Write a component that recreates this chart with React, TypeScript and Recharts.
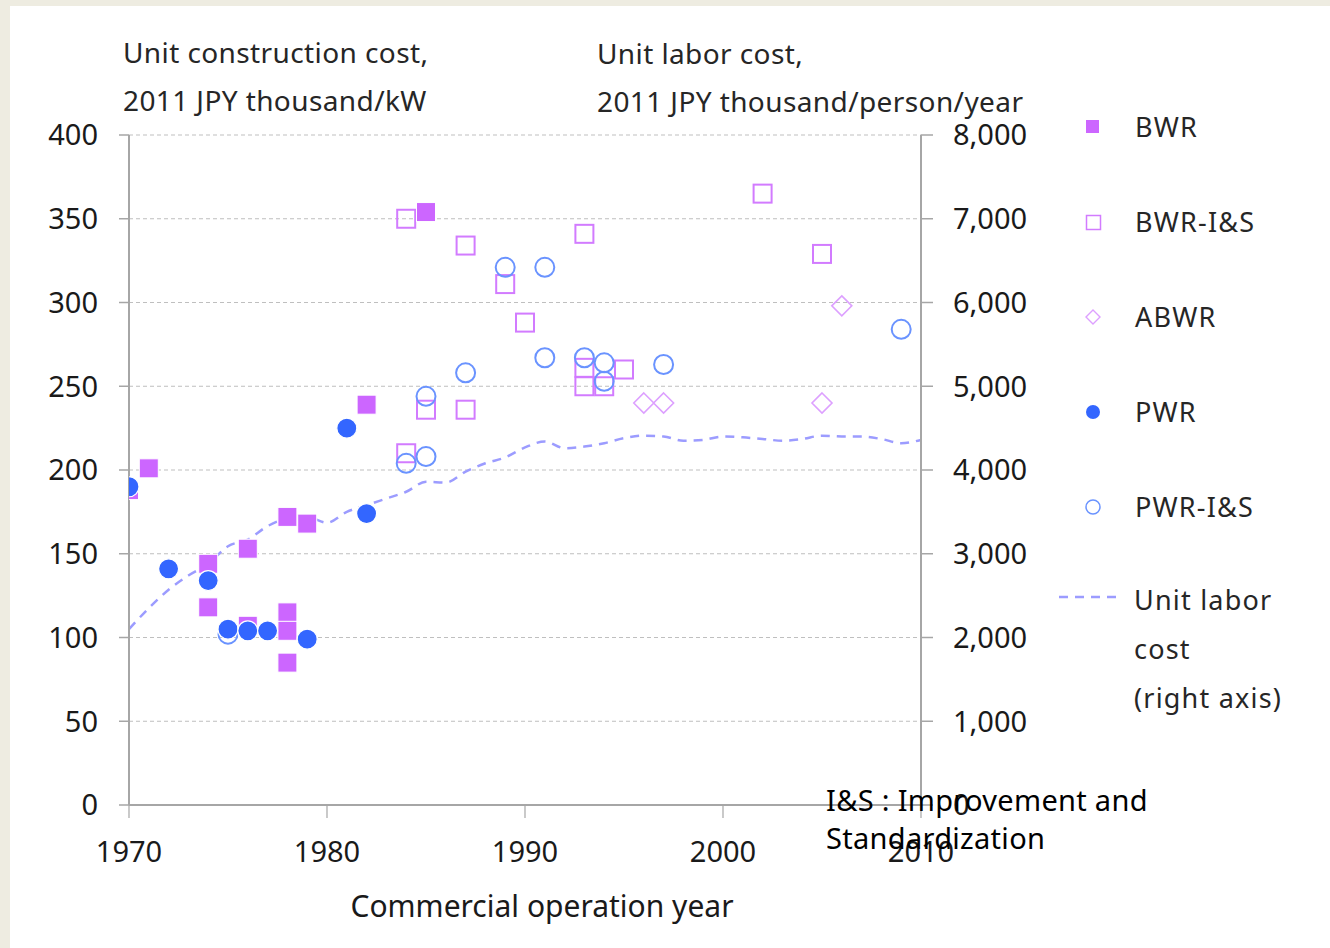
import React from 'react';
import { ComposedChart, Scatter, Line, XAxis, YAxis, CartesianGrid } from 'recharts';

// unit construction cost, 2011 JPY thousand/kW (left axis)
const bwrYears = [1970, 1971, 1974, 1974, 1976, 1976, 1978, 1978, 1978, 1978, 1979, 1982, 1985];
const bwrCost = [188, 201, 144, 118, 153, 107, 172, 115, 104, 85, 168, 239, 354];

const bwrIsYears = [1984, 1987, 1989, 1990, 1993, 1993, 1993, 1994, 1995, 1985, 1987, 1984, 2002, 2005];
const bwrIsCost = [350, 334, 311, 288, 341, 261, 250, 250, 260, 236, 236, 210, 365, 329];

const abwrYears = [1996, 1997, 2005, 2006];
const abwrCost = [240, 240, 240, 298];

const pwrYears = [1970, 1972, 1974, 1975, 1976, 1977, 1979, 1981, 1982];
const pwrCost = [190, 141, 134, 105, 104, 104, 99, 225, 174];

const pwrIsYears = [1975, 1984, 1985, 1985, 1987, 1989, 1991, 1991, 1993, 1994, 1994, 1997, 2009];
const pwrIsCost = [102, 204, 208, 244, 258, 321, 321, 267, 267, 264, 253, 263, 284];

// unit labor cost, 2011 JPY thousand/person/year (right axis)
const laborYears = [
  1970, 1971, 1972, 1973, 1974, 1975, 1976, 1977, 1978, 1979, 1980, 1981, 1982, 1983,
  1984, 1985, 1986, 1987, 1988, 1989, 1990, 1991, 1992, 1993, 1994, 1995, 1996, 1997,
  1998, 1999, 2000, 2001, 2002, 2003, 2004, 2005, 2006, 2007, 2008, 2009, 2010,
];
const laborCost = [
  2100, 2350, 2570, 2740, 2880, 3090, 3170, 3330, 3420, 3440, 3370, 3500, 3580, 3660,
  3740, 3860, 3850, 3980, 4080, 4150, 4270, 4340, 4260, 4280, 4320, 4380, 4410, 4400,
  4350, 4360, 4400, 4390, 4370, 4350, 4370, 4410, 4400, 4400, 4370, 4320, 4360,
];

const xTicks = [1970, 1980, 1990, 2000, 2010];
const leftTicks = [0, 50, 100, 150, 200, 250, 300, 350, 400];
const rightTicks = [0, 1000, 2000, 3000, 4000, 5000, 6000, 7000, 8000];

const toPoints = (years: number[], costs: number[]) =>
  years.map((year, i) => ({ year, cost: costs[i] }));

const bwrData = toPoints(bwrYears, bwrCost);
const bwrIsData = toPoints(bwrIsYears, bwrIsCost);
const abwrData = toPoints(abwrYears, abwrCost);
const pwrData = toPoints(pwrYears, pwrCost);
const pwrIsData = toPoints(pwrIsYears, pwrIsCost);
const laborData = laborYears.map((year, i) => ({ year, labor: laborCost[i] }));

const FONT = '"Noto Sans", "Open Sans", sans-serif';
const AXIS = '#A6A6A6';

const C_BWR = '#CC66FF';
const C_BWR_IS = '#D27BFF';
const C_ABWR = '#DDA0FF';
const C_PWR = '#3366FF';
const C_PWR_IS = '#6A93FF';
const C_LABOR = '#9C9CFF';

const FilledSquare = ({ cx, cy }: any) => (
  <rect x={cx - 9.5} y={cy - 9.5} width={19} height={19} fill={C_BWR} stroke="#fff" strokeWidth={1} />
);
const OpenSquare = ({ cx, cy }: any) => (
  <rect x={cx - 9} y={cy - 9} width={18} height={18} fill="none" stroke={C_BWR_IS} strokeWidth={2} />
);
const OpenDiamond = ({ cx, cy }: any) => (
  <polygon
    points={`${cx},${cy - 10} ${cx + 10},${cy} ${cx},${cy + 10} ${cx - 10},${cy}`}
    fill="none"
    stroke={C_ABWR}
    strokeWidth={1.6}
  />
);
const FilledCircle = ({ cx, cy }: any) => (
  <circle cx={cx} cy={cy} r={10} fill={C_PWR} stroke="#fff" strokeWidth={1.2} />
);
const OpenCircle = ({ cx, cy }: any) => (
  <circle cx={cx} cy={cy} r={9.5} fill="none" stroke={C_PWR_IS} strokeWidth={2} />
);

const legendItems = [
  { name: 'BWR', icon: <rect x={14} y={9} width={13} height={13} fill={C_BWR} /> },
  { name: 'BWR-I&S', icon: <rect x={14.5} y={9.5} width={14} height={14} fill="none" stroke={C_BWR_IS} strokeWidth={1.5} /> },
  { name: 'ABWR', icon: <polygon points="21,9 28,16 21,23 14,16" fill="none" stroke={C_ABWR} strokeWidth={1.4} /> },
  { name: 'PWR', icon: <circle cx={21} cy={16} r={7} fill={C_PWR} /> },
  { name: 'PWR-I&S', icon: <circle cx={21} cy={16} r={7} fill="none" stroke={C_PWR_IS} strokeWidth={1.5} /> },
];

export default function App() {
  return (
    <div style={{ position: 'fixed', left: 0, top: 0, width: 1330, height: 948, background: '#EEECE1', fontFamily: FONT }}>
      <div style={{ position: 'absolute', left: 10, top: 6, right: 0, bottom: 0, background: '#fff' }} />

      <div style={{ position: 'absolute', left: 0, top: 0 }}>
        <ComposedChart
          width={1330}
          height={948}
          margin={{ top: 135, right: 289, left: 29, bottom: 83 }}
        >
          <CartesianGrid
            yAxisId="left"
            horizontal
            vertical={false}
            stroke="#BFBFBF"
            strokeDasharray="4 3"
            strokeWidth={1.2}
          />
          <XAxis
            dataKey="year"
            type="number"
            domain={[1970, 2010]}
            ticks={xTicks}
            allowDataOverflow
            height={60}
            tickSize={13}
            tickMargin={23}
            axisLine={{ stroke: AXIS, strokeWidth: 2 }}
            tickLine={{ stroke: AXIS, strokeWidth: 1.2 }}
            tick={{ fill: '#1a1a1a', fontSize: 29, fontFamily: FONT }}
          />
          <YAxis
            yAxisId="left"
            type="number"
            domain={[0, 400]}
            ticks={leftTicks}
            allowDataOverflow
            width={100}
            tickSize={10}
            tickMargin={21}
            axisLine={{ stroke: AXIS, strokeWidth: 2 }}
            tickLine={{ stroke: AXIS, strokeWidth: 1.5 }}
            tick={{ fill: '#1a1a1a', fontSize: 29, fontFamily: FONT }}
          />
          <YAxis
            yAxisId="right"
            orientation="right"
            type="number"
            domain={[0, 8000]}
            ticks={rightTicks}
            allowDataOverflow
            width={120}
            tickSize={12}
            tickMargin={20}
            tickFormatter={(v: number) => v.toLocaleString('en-US')}
            axisLine={{ stroke: AXIS, strokeWidth: 2 }}
            tickLine={{ stroke: AXIS, strokeWidth: 1.5 }}
            tick={{ fill: '#1a1a1a', fontSize: 29, fontFamily: FONT, textAnchor: 'start' }}
          />
          <Scatter name="BWR-I&S" yAxisId="left" data={bwrIsData} dataKey="cost" shape={OpenSquare} isAnimationActive={false} />
          <Scatter name="ABWR" yAxisId="left" data={abwrData} dataKey="cost" shape={OpenDiamond} isAnimationActive={false} />
          <Scatter name="PWR-I&S" yAxisId="left" data={pwrIsData} dataKey="cost" shape={OpenCircle} isAnimationActive={false} />
          <Scatter name="BWR" yAxisId="left" data={bwrData} dataKey="cost" shape={FilledSquare} isAnimationActive={false} />
          <Line
            name="Unit labor cost"
            yAxisId="right"
            data={laborData}
            dataKey="labor"
            type="monotone"
            stroke={C_LABOR}
            strokeWidth={2.5}
            strokeDasharray="9 7"
            dot={false}
            activeDot={false}
            isAnimationActive={false}
          />
          <Scatter name="PWR" yAxisId="left" data={pwrData} dataKey="cost" shape={FilledCircle} isAnimationActive={false} />
        </ComposedChart>
      </div>

      {/* axis titles */}
      <div style={{ position: 'absolute', left: 123, top: 28, fontSize: 28, letterSpacing: 0.4, lineHeight: '48px', color: '#262626' }}>
        Unit construction cost,<br />2011 JPY thousand/kW
      </div>
      <div style={{ position: 'absolute', left: 597, top: 29, fontSize: 28, letterSpacing: 0.4, lineHeight: '48px', color: '#262626' }}>
        Unit labor cost,<br />2011 JPY thousand/person/year
      </div>
      <div style={{ position: 'absolute', left: 129, width: 826, top: 885, textAlign: 'center', fontSize: 30, color: '#1a1a1a' }}>
        Commercial operation year
      </div>
      <div style={{ position: 'absolute', left: 826, top: 781, fontSize: 29, letterSpacing: 0.3, lineHeight: '38px', color: '#000' }}>
        I&amp;S : Improvement and<br />Standardization
      </div>

      {/* legend */}
      <div style={{ position: 'absolute', left: 1052, top: 79 }}>
        {legendItems.map((item) => (
          <div key={item.name} style={{ display: 'flex', alignItems: 'center', height: 95 }}>
            <svg width={72} height={32} style={{ marginLeft: 20 }}>{item.icon}</svg>
            <span style={{ fontSize: 27, letterSpacing: 1.2, color: '#262626', marginLeft: -9 }}>{item.name}</span>
          </div>
        ))}
      </div>
      <div style={{ position: 'absolute', left: 1057, top: 575, display: 'flex' }}>
        <svg width={66} height={44}>
          <line x1={2} y1={22} x2={64} y2={22} stroke={C_LABOR} strokeWidth={2.5} strokeDasharray="9 7" />
        </svg>
        <span style={{ fontSize: 27, letterSpacing: 1.2, color: '#262626', marginLeft: 11, lineHeight: '49px' }}>
          Unit labor<br />cost<br />(right axis)
        </span>
      </div>
    </div>
  );
}
